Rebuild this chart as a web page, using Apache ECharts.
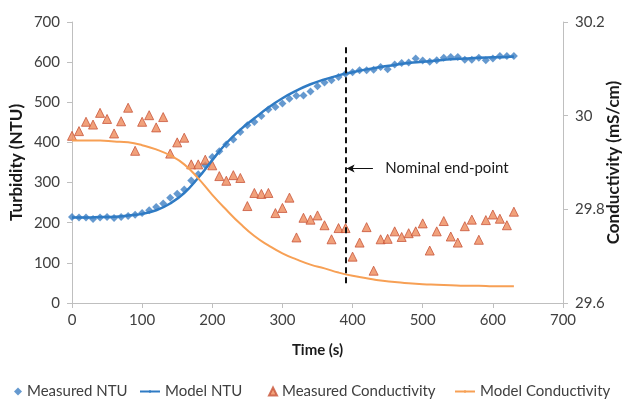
<!DOCTYPE html>
<html><head><meta charset="utf-8">
<script src="https://cdn.jsdelivr.net/npm/echarts@6/dist/echarts.min.js"></script>
<style>html,body{margin:0;padding:0;background:#fff}#c{width:627px;height:401px}</style>
</head><body><div id="c"></div>
<script>
const measTime = [0,10,20,30,40,50,60,70,80,90,100,110,120,130,140,150,160,170,180,190,200,210,220,230,240,250,260,270,280,290,300,310,320,330,340,350,360,370,380,390,400,410,420,430,440,450,460,470,480,490,500,510,520,530,540,550,560,570,580,590,600,610,620,630];
const measuredNTU = [214,213,213,209,213,214,212,214,217,220,224,231,239,248,262,272,283,305,321,343,364,378,395,407,426,443,451,466,482,488,497,509,516,517,527,540,549,555,563,571,575,580,580,581,588,582,594,598,599,609,604,601,605,611,613,613,606,606,611,605,609,615,615,615];
const measuredCond = [29.957,29.967,29.987,29.981,30.006,29.993,29.962,29.988,30.017,29.925,29.987,30.001,29.975,29.997,29.919,29.943,29.953,29.896,29.896,29.906,29.894,29.871,29.861,29.873,29.867,29.807,29.835,29.833,29.835,29.792,29.803,29.825,29.740,29.782,29.778,29.787,29.766,29.736,29.760,29.760,29.699,29.729,29.762,29.669,29.736,29.737,29.753,29.741,29.749,29.753,29.770,29.712,29.753,29.775,29.742,29.729,29.764,29.778,29.735,29.777,29.789,29.780,29.766,29.795];
const modelTime = [0,20,40,60,80,100,120,140,160,180,200,220,240,260,280,300,320,340,360,380,400,420,440,460,480,500,520,540,560,580,600,620,630];
const modelNTU = [213,213,214,215,218,222,231,248,274,312,356,398,432,460,487,510,529,545,557,567,575,582,588,593,598,601,604,607,609,611,612,613,614];
const modelCond = [29.947,29.947,29.947,29.945,29.943,29.937,29.928,29.915,29.896,29.866,29.831,29.799,29.769,29.743,29.723,29.706,29.693,29.682,29.674,29.665,29.658,29.653,29.648,29.645,29.642,29.640,29.639,29.638,29.637,29.637,29.636,29.636,29.636];
const xTicks = {min:0, max:700, interval:100};
const endPoint = {time:390, yFrom:49, yTo:637, arrowFrom:429, arrowY:335, textAt:446, text:'Nominal end-point'};

const pair = (xs, ys) => xs.map((x,i)=>[x, ys[i]]);
const font = 'Lato, "Open Sans", sans-serif';
const axisLineStyle = {show:true, lineStyle:{color:'#bfbfbf', width:1}};
const tick = {show:true, inside:false, length:5, lineStyle:{color:'#bfbfbf'}};
const lbl = {color:'#404040', fontSize:15, fontFamily:font};
const nameStyle = {color:'#1a1a1a', fontSize:15, fontWeight:'bold', fontFamily:font};
const vNameStyle = {color:'#1a1a1a', fontSize:17, fontWeight:'bold', fontFamily:font};

const chart = echarts.init(document.getElementById('c'), null, {renderer:'canvas'});
const legendBase = {bottom:2, padding:0, textStyle:{color:'#404040', fontSize:15, fontFamily:font}, itemGap:0, selectedMode:false};
chart.setOption({
  animation:false,
  grid:{left:72, right:64, top:22, bottom:98, outerBoundsMode:'none', containLabel:false},
  legend:[
    Object.assign({}, legendBase, {left:14, data:[{name:'Measured NTU', icon:'diamond'}], itemWidth:8, itemHeight:8}),
    Object.assign({}, legendBase, {left:139, data:['Model NTU'], itemWidth:20, itemHeight:3}),
    Object.assign({}, legendBase, {left:268, data:[{name:'Measured Conductivity', icon:'triangle'}], itemWidth:8, itemHeight:8}),
    Object.assign({}, legendBase, {left:454, data:['Model Conductivity'], itemWidth:20, itemHeight:3})
  ],
  xAxis:{type:'value', min:xTicks.min, max:xTicks.max, interval:xTicks.interval,
    name:'Time (s)', nameLocation:'middle', nameGap:40, nameMoveOverlap:false, nameTextStyle:nameStyle,
    axisLine:axisLineStyle, axisTick:tick, axisLabel:Object.assign({margin:10}, lbl), splitLine:{show:false}},
  yAxis:[
    {type:'value', min:0, max:700, interval:100, position:'left',
     name:'Turbidity (NTU)', nameLocation:'middle', nameGap:47, nameMoveOverlap:false, nameRotate:90, nameTextStyle:vNameStyle,
     axisLine:axisLineStyle, axisTick:tick, axisLabel:Object.assign({margin:12}, lbl), splitLine:{show:false}},
    {type:'value', min:29.6, max:30.2, interval:0.2, position:'right',
     name:'Conductivity (mS/cm)', nameLocation:'middle', nameGap:42, nameMoveOverlap:false, nameRotate:90, nameTextStyle:vNameStyle,
     axisLine:axisLineStyle, axisTick:tick,
     axisLabel:Object.assign({margin:12, formatter:v=>String(Math.round(v*10)/10)}, lbl), splitLine:{show:false}}
  ],
  series:[
    {name:'Measured NTU', type:'scatter', yAxisIndex:0, symbol:'diamond', symbolSize:8,
     itemStyle:{color:'#3f7fc3'}, data:pair(measTime, measuredNTU), z:3},
    {name:'Model NTU', type:'line', yAxisIndex:0, smooth:true, symbol:'none',
     lineStyle:{color:'#2f7bc4', width:2.5}, itemStyle:{color:'#2f7bc4'}, data:pair(modelTime, modelNTU), z:4,
     markLine:{silent:true, animation:false, symbol:['none','none'],
       data:[
         [{coord:[endPoint.time, endPoint.yFrom], lineStyle:{color:'#111', width:2, type:[6,4]}, label:{show:false}},
          {coord:[endPoint.time, endPoint.yTo]}],
         [{coord:[endPoint.arrowFrom, endPoint.arrowY], symbol:'none', lineStyle:{color:'#111', width:1, type:'solid'}, label:{show:false}},
          {coord:[endPoint.time+1.5, endPoint.arrowY], symbol:'arrow', symbolSize:[6,8]}]
       ]},
     markPoint:{silent:true, animation:false, symbol:'circle', symbolSize:1, itemStyle:{color:'rgba(0,0,0,0)'},
       label:{show:true, position:'right', distance:0, color:'#1a1a1a', fontSize:15, fontFamily:font, formatter:endPoint.text},
       data:[{coord:[endPoint.textAt, endPoint.arrowY]}]}
    },
    {name:'Measured Conductivity', type:'scatter', yAxisIndex:1, symbol:'triangle', symbolSize:9,
     itemStyle:{color:'#ed8a5a', borderColor:'#c8553a', borderWidth:1}, data:pair(measTime, measuredCond), z:3},
    {name:'Model Conductivity', type:'line', yAxisIndex:1, smooth:true, symbol:'none',
     lineStyle:{color:'#f7a055', width:2}, itemStyle:{color:'#f7a055'}, data:pair(modelTime, modelCond), z:4}
  ]
});
</script></body></html>
